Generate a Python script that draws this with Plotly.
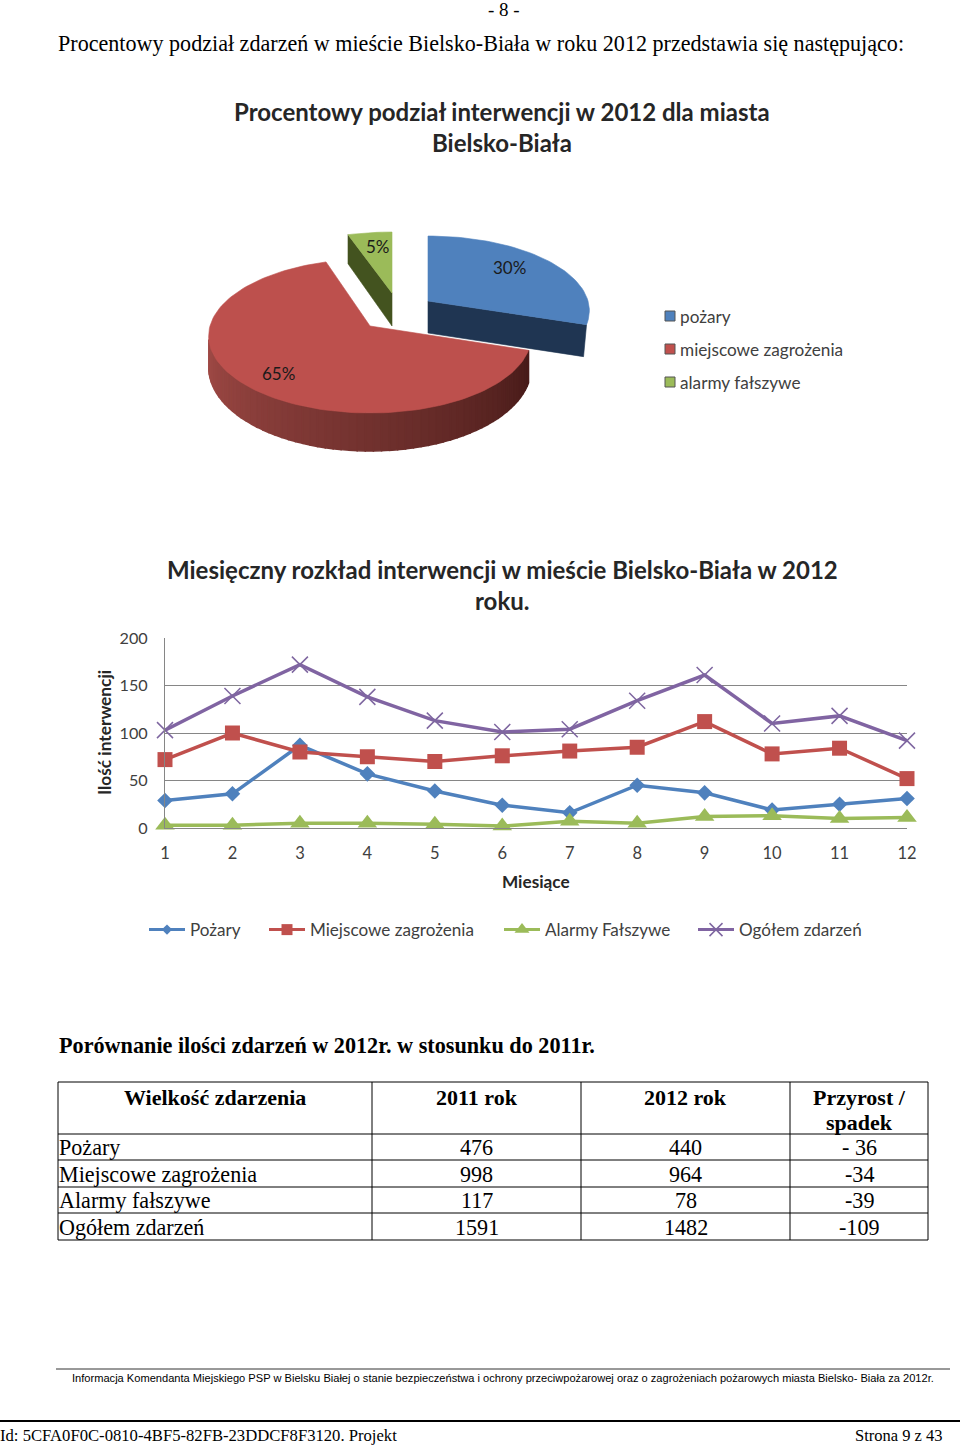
import math
import plotly.graph_objects as go

W, H = 960, 1445
SERIF = "Liberation Serif"
SANS = "Liberation Sans"
CHART = "Lato"

# ── Data ───────────────────────────────────────────────────────────────────────

pie_labels = ["pożary", "miejscowe zagrożenia", "alarmy fałszywe"]
pie_shares = [30, 65, 5]

months = list(range(1, 13))
pozary = [29, 36, 87, 57, 39, 24, 16, 45, 37, 19, 25, 31]
miejscowe = [72, 100, 80, 75, 70, 76, 81, 85, 112, 78, 84, 52]
alarmy = [3, 3, 5, 5, 4, 2, 7, 5, 12, 13, 10, 11]
ogolem = [103, 139, 172, 138, 113, 101, 104, 134, 161, 110, 118, 92]
y_ticks = [0, 50, 100, 150, 200]

table_header = ["Wielkość zdarzenia", "2011 rok", "2012 rok", "Przyrost /<br>spadek"]
table_names = ["Pożary", "Miejscowe zagrożenia", "Alarmy fałszywe", "Ogółem zdarzeń"]
table_2011 = ["476", "998", "117", "1591"]
table_2012 = ["440", "964", "78", "1482"]
table_diff = ["- 36", "-34", "-39", "-109"]

# ── Helpers ────────────────────────────────────────────────────────────────────

fig = go.Figure()


def text(x, y, s, size, family=SERIF, bold=False, anchor="left", color="#000000", angle=0):
    fig.add_annotation(
        x=x, y=y, xref="x2", yref="y2", text=f"<b>{s}</b>" if bold else s,
        showarrow=False, xanchor=anchor, yanchor="middle", textangle=angle,
        font=dict(family=family, size=size, color=color),
        borderpad=0, borderwidth=0,
    )


def hline(x0, x1, y, width=1, color="#000000"):
    fig.add_shape(type="line", xref="x2", yref="y2", x0=x0, x1=x1, y0=y, y1=y,
                  line=dict(color=color, width=width))


def vline(x, y0, y1, width=1, color="#000000"):
    fig.add_shape(type="line", xref="x2", yref="y2", x0=x, x1=x, y0=y0, y1=y1,
                  line=dict(color=color, width=width))


def project(cx, cy, deg, ysc=1.0):
    # tilted disc with a little perspective: the back is narrower than the front
    a = math.radians(deg)
    s = 1 / (1 + 0.13 * math.sin(a))
    return cx + 160 * math.cos(a) * s, cy - 75.7 * ysc * math.sin(a) * s


def wall(deg):
    return 30 + 8 * max(0, -math.sin(math.radians(deg)))


def polygon(xs, ys, color, edge=0.6):
    fig.add_trace(go.Scatter(
        x=xs, y=ys, xaxis="x2", yaxis="y2", mode="lines", fill="toself",
        fillcolor=color, line=dict(color=color, width=edge),
        hoverinfo="skip", showlegend=False,
    ))


def wedge_top(cx, cy, start, sweep, color, ysc=1.0):
    # sweep runs clockwise from start, as in the source chart
    n = max(2, int(sweep / 2))
    pts = [project(cx, cy, start - sweep * i / n, ysc) for i in range(n + 1)]
    polygon([cx] + [p[0] for p in pts] + [cx], [cy] + [p[1] for p in pts] + [cy], color)


def mix(c0, c1, t):
    return "rgb(%d,%d,%d)" % tuple(round(a + (b - a) * t) for a, b in zip(c0, c1))


# ── Pie ────────────────────────────────────────────────────────────────────────

blue_sweep = pie_shares[0] * 3.6
red_sweep = pie_shares[1] * 3.6
green_sweep = pie_shares[2] * 3.6
blue_end = 90 - blue_sweep
red_end = blue_end - red_sweep

# red slice: outer wall as thin strips to get the dark gradient
red_c = (370, 326)
strips = 60
wall_from, wall_to = 190, 360 + blue_end
for i in range(strips):
    a0 = wall_from + (wall_to - wall_from) * i / strips
    a1 = wall_from + (wall_to - wall_from) * (i + 1) / strips
    p0, p1 = project(*red_c, a0), project(*red_c, a1)
    polygon([p0[0], p1[0], p1[0], p0[0], p0[0]],
            [p0[1], p1[1], p1[1] + wall(a1), p0[1] + wall(a0), p0[1]],
            mix((160, 74, 70), (72, 27, 25), i / (strips - 1)), edge=1.5)
wedge_top(*red_c, blue_end, red_sweep, "#bd504d")

# green slice: the radial face looks towards us
green_c = (392, 293)
g_edge = project(*green_c, red_end, 0.91)
polygon([green_c[0], g_edge[0], g_edge[0], green_c[0], green_c[0]],
        [green_c[1], g_edge[1], g_edge[1] + 29, green_c[1] + 33, green_c[1]], "#43531f")
wedge_top(*green_c, red_end, green_sweep, "#9bbb59", 0.91)

# blue slice
blue_c = (428, 301)
b_edge = project(*blue_c, blue_end, 0.97)
polygon([blue_c[0], b_edge[0], b_edge[0] - 3, blue_c[0], blue_c[0]],
        [blue_c[1], b_edge[1], b_edge[1] + 32, blue_c[1] + 32, blue_c[1]], "#1f3552")
wedge_top(*blue_c, 90, blue_sweep, "#4f81bd", 0.97)

text(509, 267, f"{pie_shares[0]}%", 17, CHART, color="#1a1a1a", anchor="center")
text(278, 373, f"{pie_shares[1]}%", 17, CHART, color="#1a1a1a", anchor="center")
text(378, 246, f"{pie_shares[2]}%", 17, CHART, color="#1a1a1a", anchor="center")

pie_legend_y = [316, 349, 382]
fig.add_trace(go.Scatter(
    x=[670] * 3, y=pie_legend_y, xaxis="x2", yaxis="y2", mode="markers",
    marker=dict(symbol="square", size=10, color=["#4f81bd", "#c0504d", "#9bbb59"],
                line=dict(color="#555555", width=1)),
    hoverinfo="skip", showlegend=False,
))
for y, label in zip(pie_legend_y, pie_labels):
    text(680, y + 0.5, label, 17.2, CHART, color="#404040")

text(502, 111, "Procentowy podział interwencji w 2012 dla miasta", 24, CHART, True, "center", "#262626")
text(502, 142, "Bielsko-Biała", 24, CHART, True, "center", "#262626")

# ── Line chart ─────────────────────────────────────────────────────────────────

series = [
    ("Pożary", pozary, "#4f81bd", "diamond", 12, 8, "legend", 144),
    ("Miejscowe zagrożenia", miejscowe, "#c0504d", "square", 15, 11, "legend2", 264),
    ("Alarmy Fałszywe", alarmy, "#9bbb59", "triangle-up", 17, 13, "legend3", 499),
    ("Ogółem zdarzeń", ogolem, "#8064a2", "x-thin", 16, 13, "legend4", 693),
]
for name, vals, color, symbol, size, leg_size, leg, leg_x in series:
    mline = dict(color="#7e66a0", width=1.5) if symbol == "x-thin" else dict(width=0)
    fig.add_trace(go.Scatter(
        x=months, y=vals, mode="lines+markers", name=name, cliponaxis=False,
        line=dict(color=color, width=3.5),
        marker=dict(symbol=symbol, size=size, color=color, line=mline),
        showlegend=False,
    ))
    fig.add_trace(go.Scatter(
        x=[None], y=[None], mode="lines+markers", name=name, legend=leg,
        line=dict(color=color, width=3),
        marker=dict(symbol=symbol, size=leg_size, color=color, line=mline),
    ))

text(502, 569, "Miesięczny rozkład interwencji w mieście Bielsko-Biała w 2012", 24, CHART, True, "center", "#262626")
text(502, 600, "roku.", 24, CHART, True, "center", "#262626")
text(536, 881, "Miesiące", 17.2, CHART, True, "center", "#262626")
text(104, 733, "Ilość interwencji", 17.3, CHART, True, "center", "#262626", -90)

# ── Page text and table ────────────────────────────────────────────────────────

text(488, 9, "- 8 -", 19)
text(58, 43, "Procentowy podział zdarzeń w mieście Bielsko-Biała w roku 2012 przedstawia się następująco:", 22.1)
text(59, 1045, "Porównanie ilości zdarzeń w 2012r. w stosunku do 2011r.", 22.2, bold=True)

col_x = [58, 372, 581, 790, 928]
row_y = [1082, 1134, 1160, 1187, 1213, 1240]
for y in row_y:
    hline(col_x[0], col_x[-1], y)
for x in col_x:
    vline(x, row_y[0], row_y[-1])

centres = [(col_x[i] + col_x[i + 1]) / 2 for i in range(4)]
for c, head in zip(centres, table_header):
    lines = head.split("<br>")
    for k, part in enumerate(lines):
        text(c, 1097 + 25 * k, part, 22, bold=True, anchor="center")
for i, name in enumerate(table_names):
    y = (row_y[i + 1] + row_y[i + 2]) / 2 + 0.5
    text(59, y, name, 22.1)
    text(centres[1], y, table_2011[i], 22.1, anchor="center")
    text(centres[2], y, table_2012[i], 22.1, anchor="center")
    text(centres[3], y, table_diff[i], 22.1, anchor="center")

hline(56, 950, 1369, color="#333333")
text(72, 1378, "Informacja Komendanta Miejskiego PSP w Bielsku Białej o stanie bezpieczeństwa i ochrony "
     "przeciwpożarowej oraz o zagrożeniach pożarowych miasta Bielsko- Biała za 2012r.", 11.1, SANS)
hline(0, 960, 1421, width=2)
text(0, 1435, "Id: 5CFA0F0C-0810-4BF5-82FB-23DDCF8F3120. Projekt", 16.65)
text(943, 1435, "Strona 9 z 43", 16.5, anchor="right")

# ── Layout ─────────────────────────────────────────────────────────────────────

legends = {}
for name, vals, color, symbol, size, leg_size, leg, leg_x in series:
    legends[leg] = dict(
        x=leg_x / W, y=1 - 930 / H, xanchor="left", yanchor="middle",
        orientation="h", itemwidth=36, bgcolor="rgba(0,0,0,0)",
        font=dict(family=CHART, size=17.1, color="#404040"),
    )

fig.update_layout(
    width=W, height=H, autosize=False,
    margin=dict(l=0, r=0, t=0, b=0, autoexpand=False),
    paper_bgcolor="#ffffff", plot_bgcolor="rgba(0,0,0,0)",
    xaxis=dict(
        domain=[165 / W, 907 / W], range=[1, 12], anchor="y",
        tickmode="array", tickvals=months, ticks="", showgrid=False, zeroline=False,
        showline=True, linecolor="#868686", linewidth=1, ticklabelstandoff=10,
        tickfont=dict(family=CHART, size=16.5, color="#404040"),
    ),
    yaxis=dict(
        domain=[1 - 828 / H, 1 - 638 / H], range=[0, 200], anchor="x",
        tickmode="array", tickvals=y_ticks, ticks="", zeroline=False,
        showgrid=True, gridcolor="#868686", gridwidth=1,
        showline=True, linecolor="#868686", linewidth=1, ticklabelstandoff=13,
        tickfont=dict(family=CHART, size=16.2, color="#404040"),
    ),
    xaxis2=dict(domain=[0, 1], range=[0, W], anchor="y2", visible=False),
    yaxis2=dict(domain=[0, 1], range=[H, 0], anchor="x2", visible=False),
    **legends,
)

fig.write_html("out.html", config={"displayModeBar": False},
               post_script="document.body.style.margin='0';")
